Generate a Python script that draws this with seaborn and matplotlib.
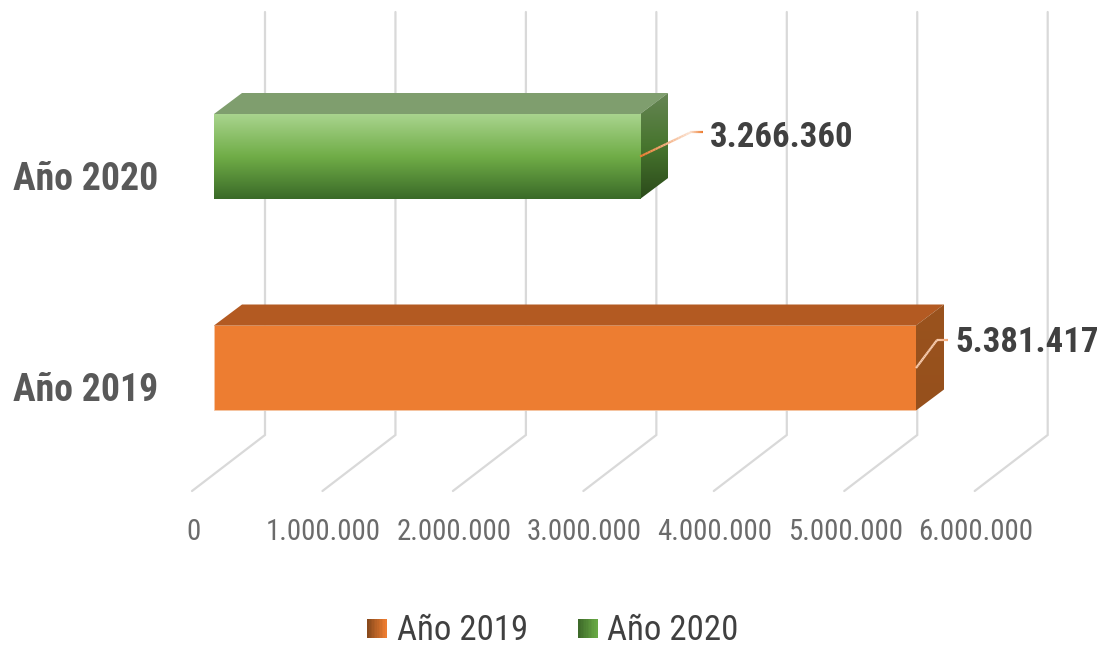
import matplotlib
matplotlib.use('Agg')
from matplotlib import pyplot as plt
from matplotlib.collections import LineCollection
from matplotlib.colors import LinearSegmentedColormap, to_rgb
from matplotlib.legend_handler import HandlerBase
from matplotlib.patches import Patch, Polygon, Rectangle
import numpy as np
import pandas as pd
import seaborn as sns

# data
years = ['Año 2020', 'Año 2019']
values = [3266360, 5381417]
value_labels = ['3.266.360', '5.381.417']
x_ticks = [0, 1000000, 2000000, 3000000, 4000000, 5000000, 6000000]
x_tick_labels = ['0', '1.000.000', '2.000.000', '3.000.000', '4.000.000', '5.000.000', '6.000.000']
legend_order = ['Año 2019', 'Año 2020']

# pixel scale of the picture
W, H = 1104, 646
AX_LEFT, AX_BOTTOM = 160, 510
X0_PX, PX_PER_UNIT = 214, 130.45 / 1e6
Y0_PX, PX_PER_CAT = 156.5, 211.5
DEPTH_X, DEPTH_Y = 28, 21


def dx(px):
    return px / PX_PER_UNIT


def dy(px):
    return px / PX_PER_CAT


def vcmap(colors):
    return LinearSegmentedColormap.from_list('v', colors)


face_colors = {'Año 2020': '#70AD47', 'Año 2019': '#ED7D31'}
face_grad = {'Año 2020': ['#A9D48E', '#70AD47', '#3A6A28']}
top_colors = {'Año 2020': '#7F9E6E', 'Año 2019': '#B35A22'}
side_grad = {'Año 2020': ['#668554', '#47752E', '#2B4A1A'], 'Año 2019': ['#9A531E', '#96501C']}
leader_cols = {'Año 2020': ['#ED7D31', '#FBE3D3', '#ED7D31'], 'Año 2019': ['#F8CDB0', '#F8CDB0', '#F4A877']}
leader_off = {'Año 2020': [(0, 0), (50, -24), (63, -24)], 'Año 2019': [(0, 0), (21, -28), (32, -28)]}
label_off = {'Año 2020': (70, -19), 'Año 2019': (39, -25)}
legend_grad = {'Año 2019': ['#8A4A1C', '#ED7D31'], 'Año 2020': ['#3E6A2A', '#68A844']}


class GradientHandler(HandlerBase):
    def create_artists(self, legend, orig, xd, yd, width, height, fontsize, trans):
        c0, c1 = [np.array(to_rgb(c)) for c in legend_grad[orig.get_label()]]
        side = width
        y = yd + (height - side) / 2
        parts = []
        for i in range(12):
            t = i / 11
            parts.append(Rectangle((-xd + side * i / 12, y), side / 12 + 0.3, side,
                                   facecolor=c0 + (c1 - c0) * t, edgecolor='none', transform=trans))
        return parts


df = pd.DataFrame({'year': years, 'value': values})

sns.set_theme(style='white')
plt.rcParams['font.family'] = ['Roboto Condensed', 'Liberation Sans', 'DejaVu Sans']

fig = plt.figure(figsize=(W / 100, H / 100), dpi=100)
ax = fig.add_axes([AX_LEFT / W, 1 - AX_BOTTOM / H, 1 - AX_LEFT / W, AX_BOTTOM / H])
sns.barplot(data=df, x='value', y='year', hue='year', order=years, hue_order=years,
            palette=face_colors, saturation=1, width=85 / PX_PER_CAT, dodge=False,
            legend=False, ax=ax, zorder=3)

# 3D look: gridlines run up the back wall and across the floor
y_top = dy(12 - Y0_PX)
y_back = dy(435 - Y0_PX)
y_front = dy(491 - Y0_PX)
for tick in x_ticks:
    ax.plot([tick + dx(51), tick + dx(51), tick - dx(22)], [y_top, y_back, y_front],
            color='#D9D9D9', lw=1.6, zorder=1, solid_joinstyle='miter', clip_on=False)

for bar, year, label in zip(ax.patches, years, value_labels):
    x1 = bar.get_x() + bar.get_width()
    y0, y1 = bar.get_y(), bar.get_y() + bar.get_height()
    xd, yd = dx(DEPTH_X), dy(DEPTH_Y)
    bar.set_edgecolor('#F6C6A4' if year == 'Año 2019' else 'none')
    bar.set_linewidth(0.6)

    top = Polygon([(0, y0), (xd, y0 - yd), (x1 + xd, y0 - yd), (x1, y0)],
                  facecolor=top_colors[year], edgecolor='none', zorder=3)
    ax.add_patch(top)

    side = Polygon([(x1, y0), (x1 + xd, y0 - yd), (x1 + xd, y1 - yd), (x1, y1)],
                   facecolor='none', edgecolor='none', zorder=3)
    ax.add_patch(side)
    grad = np.linspace(0, 1, 256)[:, None]
    im = ax.imshow(grad, cmap=vcmap(side_grad[year]), aspect='auto', origin='upper',
                   extent=(x1, x1 + xd, y1, y0 - yd), zorder=3)
    im.set_clip_path(side)

    if year in face_grad:
        im = ax.imshow(grad, cmap=vcmap(face_grad[year]), aspect='auto', origin='upper',
                       extent=(0, x1, y1, y0), zorder=3.2)
        im.set_clip_path(bar)

    # leader line with fading colour
    cy = (y0 + y1) / 2
    pts = np.array([(x1 + dx(a), cy + dy(b)) for a, b in leader_off[year]])
    t = np.linspace(0, len(pts) - 1, 40)
    seg_x = np.interp(t, range(len(pts)), pts[:, 0])
    seg_y = np.interp(t, range(len(pts)), pts[:, 1])
    xy = np.column_stack([seg_x, seg_y])
    segs = np.stack([xy[:-1], xy[1:]], axis=1)
    lc = LineCollection(segs, cmap=LinearSegmentedColormap.from_list('l', leader_cols[year]),
                        array=np.linspace(0, 1, len(segs)), linewidth=1.6, zorder=4)
    ax.add_collection(lc)

    ax.text(x1 + dx(label_off[year][0]), cy + dy(label_off[year][1]), label,
            fontsize=25, fontweight='bold', color='#404040', ha='left', va='center', zorder=5)

ax.set_xlim(dx(AX_LEFT - X0_PX), dx(W - X0_PX))
ax.set_ylim(dy(AX_BOTTOM - Y0_PX), dy(-Y0_PX))

ax.set_xticks([t - dx(21) for t in x_ticks], x_tick_labels)
ax.set_yticks([i + dy(19) for i in range(len(years))], years)
ax.tick_params(axis='x', length=0, pad=6, labelsize=20.8, labelcolor='#6B6B6B')
ax.tick_params(axis='y', length=0, pad=1.5, labelsize=27.3, labelcolor='#595959')
for lab in ax.get_yticklabels():
    lab.set_fontweight('bold')
ax.set_xlabel('')
ax.set_ylabel('')
sns.despine(ax=ax, left=True, bottom=True)

handles = [Patch(label=name) for name in legend_order]
fig.legend(handles=handles, labels=legend_order, handler_map={Patch: GradientHandler()},
           loc='center', bbox_to_anchor=(553 / W, 1 - 631 / H), ncols=2, frameon=False,
           fontsize=25, labelcolor='#404040', handlelength=0.55, handletextpad=0.29,
           columnspacing=1.45, borderpad=0)

fig.savefig('out.png', dpi=100)
